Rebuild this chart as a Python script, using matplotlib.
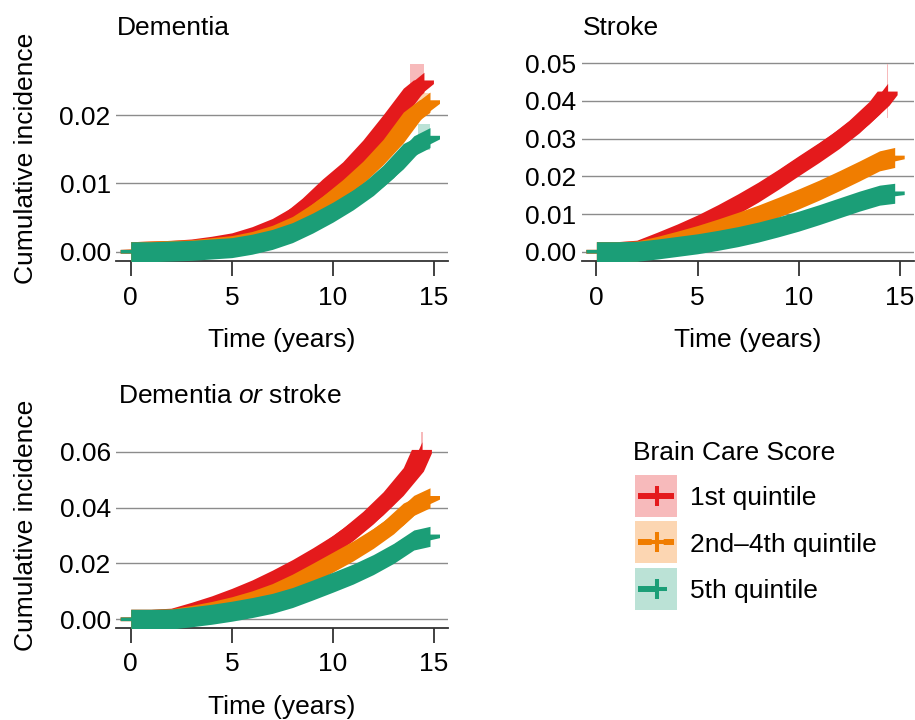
import numpy as np
import matplotlib
matplotlib.use("Agg")
import matplotlib.pyplot as plt

plt.rcParams['font.family'] = ['Liberation Sans', 'DejaVu Sans']
plt.rcParams['mathtext.fontset'] = 'custom'
plt.rcParams['mathtext.rm'] = 'Liberation Sans'
plt.rcParams['mathtext.it'] = 'Liberation Sans:italic'

# groups / colours
groups = ['1st quintile', '2nd\u20134th quintile', '5th quintile']
colors = ['#E41A1C', '#F07D00', '#1B9E77']
pale = ['#F7BABB', '#FCD6B2', '#BBE2D6']
dashes = ['solid', (0, (2.3, 2.0)), (0, (3.0, 3.6, 0.5, 3.6))]

years = list(range(15))

# Dementia (cumulative incidence at years 0..14, then last follow-up)
dem_end = [14.5, 14.8, 14.8]
dem_1st = [0, 0.0001, 0.0002, 0.0004, 0.0008, 0.0013, 0.0022, 0.0034, 0.0051, 0.0075, 0.0103, 0.0128, 0.0160, 0.0197, 0.0236, 0.0248]
dem_2_4 = [0, 0.0001, 0.0002, 0.0003, 0.0006, 0.0009, 0.0015, 0.0024, 0.0037, 0.0056, 0.0078, 0.0102, 0.0129, 0.0161, 0.0201, 0.0219]
dem_5th = [0, 0, 0.0001, 0.0002, 0.0004, 0.0006, 0.0011, 0.0018, 0.0028, 0.0042, 0.0058, 0.0076, 0.0097, 0.0123, 0.0155, 0.0167]
dem_ci_from = [13.8, 14.2, 14.2]
dem_ci_to = [14.5, 14.8, 14.8]
dem_ci_lo = [0.0215, 0.0200, 0.0149]
dem_ci_hi = [0.0275, 0.0233, 0.0187]

# Stroke
str_end = [14.4, 14.75, 14.75]
str_1st = [0, 0, 0.0004, 0.0025, 0.0047, 0.0071, 0.0098, 0.0127, 0.0158, 0.0192, 0.0228, 0.0263, 0.0300, 0.0342, 0.0392, 0.0420]
str_2_4 = [0, 0, 0.0002, 0.0014, 0.0028, 0.0043, 0.0060, 0.0078, 0.0097, 0.0118, 0.0140, 0.0163, 0.0188, 0.0214, 0.0241, 0.0250]
str_5th = [0, 0, 0.0001, 0.0007, 0.0014, 0.0021, 0.0030, 0.0040, 0.0052, 0.0066, 0.0081, 0.0098, 0.0116, 0.0134, 0.0150, 0.0155]
str_ci_from = [14.36, None, None]
str_ci_to = [14.44, None, None]
str_ci_lo = [0.0355, None, None]
str_ci_hi = [0.0497, None, None]

# Dementia or stroke
dos_end = [14.4, 14.8, 14.8]
dos_1st = [0, 0, 0.0004, 0.0025, 0.0048, 0.0075, 0.0105, 0.0140, 0.0178, 0.0220, 0.0265, 0.0318, 0.0378, 0.0448, 0.0535, 0.0600]
dos_2_4 = [0, 0, 0.0002, 0.0014, 0.0028, 0.0045, 0.0066, 0.0092, 0.0126, 0.0165, 0.0205, 0.0245, 0.0290, 0.0342, 0.0408, 0.0435]
dos_5th = [0, 0, 0.0001, 0.0009, 0.0018, 0.0029, 0.0042, 0.0057, 0.0078, 0.0105, 0.0133, 0.0162, 0.0196, 0.0236, 0.0284, 0.0297]
dos_ci_from = [14.36, None, None]
dos_ci_to = [14.44, None, None]
dos_ci_lo = [0.0535, None, None]
dos_ci_hi = [0.0672, None, None]

W, H = 915, 720
fig = plt.figure(figsize=(W / 100, H / 100), dpi=100)
FS = 19


def px_rect(left, top, right, bottom):
    return [left / W, 1 - bottom / H, (right - left) / W, (bottom - top) / H]


def draw_curve(ax, t, y, color, z, half=10.0, arm=3.6):
    # thick band made of many censoring "+" marks along the curve
    t = np.asarray(t, float)
    y = np.asarray(y, float)
    x0, x1 = ax.get_xlim()
    y0, y1 = ax.get_ylim()
    sx = ax.bbox.width / (x1 - x0)
    sy = ax.bbox.height / (y1 - y0)
    hx, hy = half / sx, half / sy
    ay = arm / 2 / sy
    ax.fill_between(t, y - hy, y + hy, color=color, lw=0, zorder=z)
    xs = np.concatenate([[t[0] - hx], t - hx, [t[-1] + hx], (t + hx)[::-1]])
    ys = np.concatenate([[y[0] - ay], y + ay, [y[-1] + ay], (y - ay)[::-1]])
    ax.fill(xs, ys, color=color, lw=0, zorder=z)


panels = [
    ('Dementia', px_rect(116, 55, 448, 261.5), (-0.00143, 0.02879), [0, 0.01, 0.02],
     [dem_1st, dem_2_4, dem_5th], dem_end, dem_ci_from, dem_ci_to, dem_ci_lo, dem_ci_hi),
    ('Stroke', px_rect(581.7, 55, 913.7, 261.5), (-0.0026, 0.05218), [0, 0.01, 0.02, 0.03, 0.04, 0.05],
     [str_1st, str_2_4, str_5th], str_end, str_ci_from, str_ci_to, str_ci_lo, str_ci_hi),
    ('Dementia $\\mathit{or}$ stroke', px_rect(116, 422, 448, 628.3), (-0.00322, 0.07064), [0, 0.02, 0.04, 0.06],
     [dos_1st, dos_2_4, dos_5th], dos_end, dos_ci_from, dos_ci_to, dos_ci_lo, dos_ci_hi),
]

for title, rect, ylim, yticks, series, ends, cf, ct, clo, chi in panels:
    ax = fig.add_axes(rect)
    ax.set_xlim(-0.727, 15.69)
    ax.set_ylim(*ylim)
    ax.set_xticks([0, 5, 10, 15])
    ax.set_yticks(yticks)
    ax.set_yticklabels([f'{v:.2f}' for v in yticks])
    for s in ['left', 'right', 'top']:
        ax.spines[s].set_visible(False)
    ax.spines['bottom'].set_color('#333333')
    ax.spines['bottom'].set_linewidth(1.3)
    ax.yaxis.grid(True, color='#8c8c8c', lw=1.0)
    ax.set_axisbelow(True)
    ax.tick_params(axis='y', length=0, pad=3.8, labelsize=FS)
    ax.tick_params(axis='x', length=10.5, width=1.3, color='#333333', pad=6.8, labelsize=FS)

    # confidence bands (only the tails show above the marks)
    for i in range(3):
        if cf[i] is not None:
            ax.fill_between([cf[i], ct[i]], [clo[i], clo[i]], [chi[i], chi[i]],
                            color=pale[i], lw=0, zorder=1)
    for i in range(3):
        draw_curve(ax, years + [ends[i]], series[i], colors[i], z=2 + i)

# text + legend on an overlay in pixel units
ov = fig.add_axes([0, 0, 1, 1])
ov.set_xlim(0, W)
ov.set_ylim(H, 0)
ov.axis('off')
ov.set_facecolor('none')

ov.text(117, 35, 'Dementia', fontsize=FS, va='baseline')
ov.text(582.5, 35, 'Stroke', fontsize=FS, va='baseline')
ov.text(117.5, 403, 'Dementia $\\mathit{or}$ stroke', fontsize=FS, va='baseline')
ov.text(282, 347, 'Time (years)', fontsize=FS, ha='center', va='baseline')
ov.text(747.7, 347, 'Time (years)', fontsize=FS, ha='center', va='baseline')
ov.text(282, 714, 'Time (years)', fontsize=FS, ha='center', va='baseline')
for yc in [158.25, 525]:
    ov.text(33, yc, 'Cumulative incidence', fontsize=FS, rotation=90,
            rotation_mode='anchor', ha='center', va='baseline')

ov.text(633, 460.5, 'Brain Care Score', fontsize=FS, va='baseline')
for i, lab in enumerate(groups):
    top = 475 + i * 46.3
    ov.add_patch(plt.Rectangle((635, top), 42, 42, color=pale[i], lw=0))
    yc = top + 21
    ov.plot([638, 674], [yc, yc], color=colors[i], lw=4.3, ls=dashes[i], solid_capstyle='butt',
            dash_capstyle='butt')
    ov.plot([656.5], [yc], marker='+', ms=14.4, mew=2.9, color=colors[i], ls='none')
    ov.text(690, yc + 9.4, lab, fontsize=FS, va='baseline')

fig.savefig('out.png', dpi=100)
